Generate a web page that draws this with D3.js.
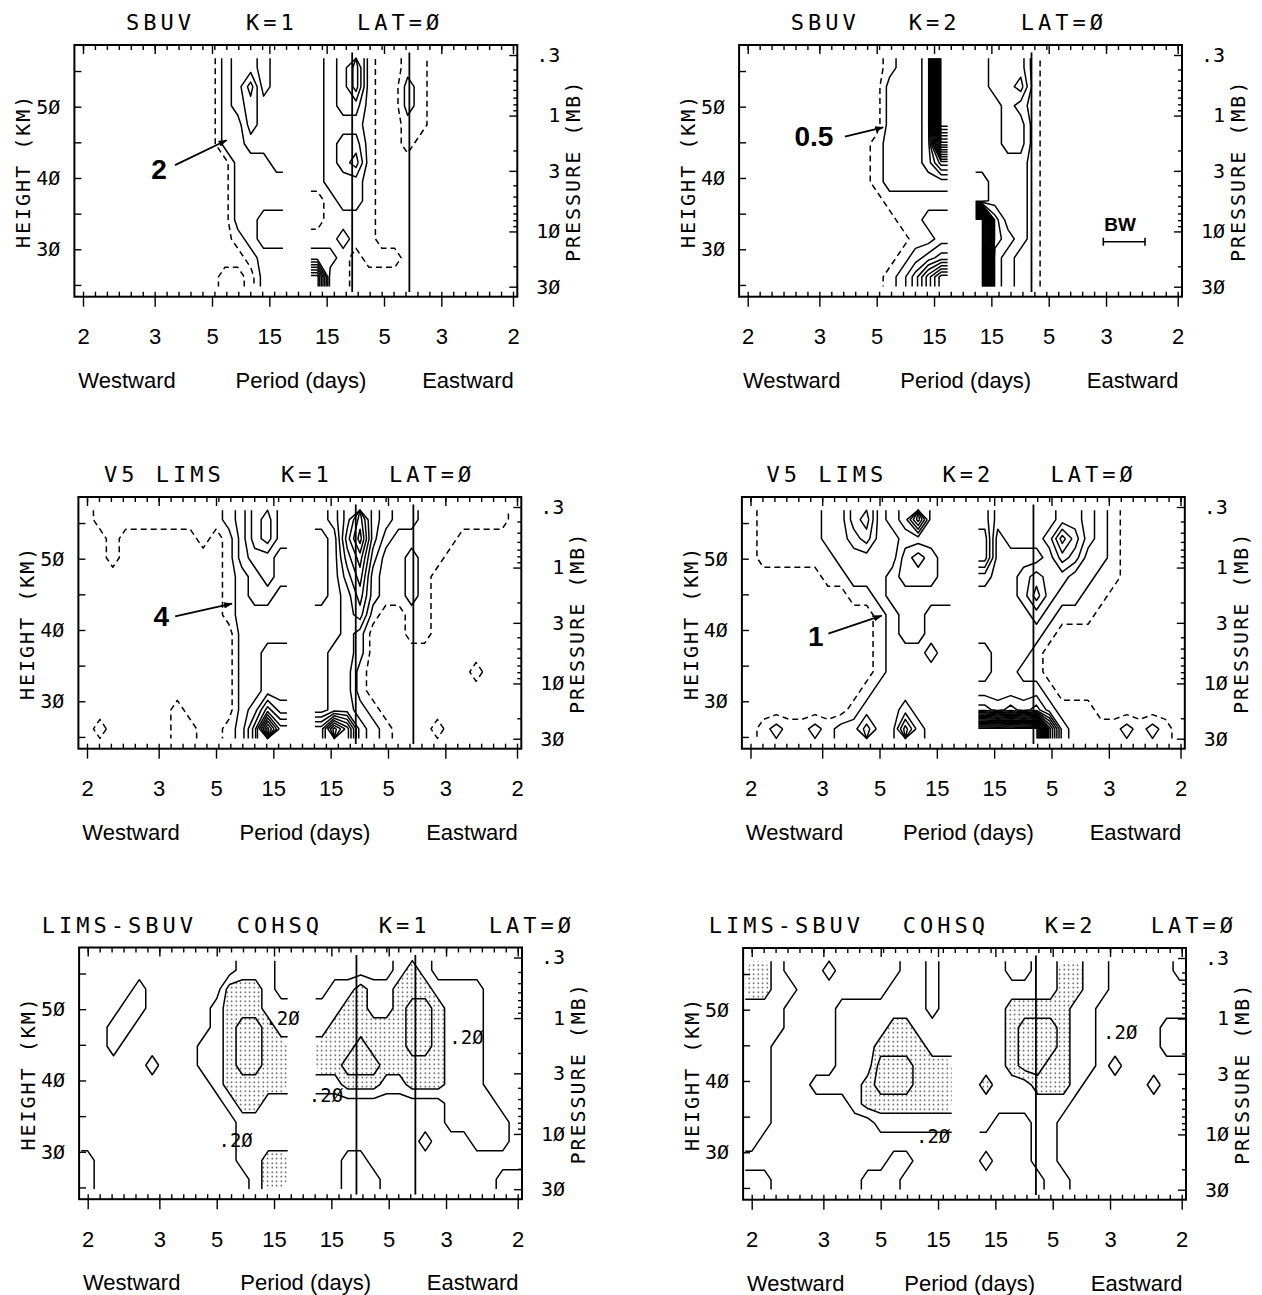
<!DOCTYPE html>
<html>
<head>
<meta charset="utf-8">
<script src="https://cdn.jsdelivr.net/npm/d3@7"></script>
<style>
  body { margin: 0; background: #fff; }
</style>
</head>
<body>
<script>
// ---- grid geometry (spectral bins and height levels) ----
const westFreq = [-0.50, -0.47, -0.44, -0.41, -0.38, -0.35, -0.32, -0.29, -0.26, -0.23, -0.20, -0.17, -0.14, -0.11, -0.08, -0.05];
const eastFreq = [0.045, 0.075, 0.105, 0.135, 0.165, 0.195, 0.225, 0.255, 0.285, 0.315, 0.345, 0.375, 0.405, 0.435, 0.465, 0.495];
const rowKm = [55.47, 52.8, 50.13, 47.47, 44.8, 42.13, 39.47, 36.8, 34.13, 31.47, 28.8, 26.13];

// ---- contour level index per grid node, top row first, "west east" (base 36 digits) ----
const sbuvK1 = [
  "0000000000023323 1235100110000000",
  "0000000000023523 1235100210000000",
  "0000000000023433 1233100210000000",
  "0000000000022433 1222100110000000",
  "0000000000022333 1233100100000000",
  "0000000000002223 1234100000000000",
  "0000000000002222 1222100000000000",
  "0000000000002222 0122100000000000",
  "0000000000002233 0111100000000000",
  "0000000000001233 1121100000000000",
  "0000000000000122 2210111000000000",
  "0000000000011022 9110000000000000"
];
const sbuvK2 = [
  "000000000001223k 2333100000000000",
  "000000000002223k 2334100000000000",
  "000000000002223k 2232100000000000",
  "000000000002223k 2233100000000000",
  "000000000012223e 2233100000000000",
  "0000000000122236 2222100000000000",
  "0000000000122222 1222100000000000",
  "0000000000011111 1222100000000000",
  "0000000000001122 k422100000000000",
  "0000000000000112 k432100000000000",
  "0000000000001234 k321100000000000",
  "000000000001247a k321100000000000"
];
const limsK1 = [
  "0111111111123564 2358432211111110",
  "0010000001013564 1269421111100000",
  "0010000000013443 1257311211000000",
  "0000000000012343 1246211210000000",
  "0000000000012332 1235211210000000",
  "0000000000012222 2234100110000000",
  "0000000000002222 2232000110000000",
  "0000000000002233 2332000000000000",
  "0000000000002233 2331000000001000",
  "0000000000002233 2331000000000000",
  "0000000100002364 2332100000000000",
  "01000001100125c7 6b83210001000000"
];
const limsK2 = [
  "0111112245234833 5333334432100000",
  "0111112234223333 6233347532100000",
  "0111111222224543 6222235422100000",
  "0000001122234443 3223433221100000",
  "0000000011233333 2223532211000000",
  "0000000000123322 2222321110000000",
  "0000000000123322 2222210000000000",
  "0000000000122232 1222100000000000",
  "0000000000122222 1221100000000000",
  "0000000001222222 2222210000000000",
  "0000000012223222 4343421110000000",
  "0121121224226322 kkkkk82111121210"
];
const cohK1 = [
  "0000000000001110 0000001210000000",
  "0000100000022210 0112112221111000",
  "0001100000122211 1122112332111000",
  "0011000000123321 1222222332111000",
  "0010000001123322 2223222332111000",
  "0000010001123322 2233322222111000",
  "0000000000122222 1122211222111000",
  "0000000000012211 0000000000111100",
  "0000000000001111 0000000000111110",
  "0000000000001111 0000000010001110",
  "1000000000001122 0011000000000000",
  "1000000000000122 0011100000000011"
];
const cohK2 = [
  "2210001000001101 1100112211000001",
  "2211000000011101 1111112211000000",
  "1110000111111101 1122222110000000",
  "1110000111122111 1123332110000011",
  "1100000111222211 1123332110000011",
  "1100000111333222 1123322110100000",
  "1100011112333222 2111222100000100",
  "1100000012222222 1111111000000000",
  "1100000000111111 1000110000000000",
  "1000000000000000 0000110000000000",
  "0000000000011000 1000110000000000",
  "1100000001110000 0000011000000000"
];

// ---- axes ----
const periods = [2, 3, 5, 15];
const tickFreq = [...periods.map(p => -1 / p), ...periods.slice().reverse().map(p => 1 / p)];
const tickLabels = [...periods, ...periods.slice().reverse()];
const minorFreq = d3.range(-18, 19).map(k => k / 36);
const kmTicks = [25, 30, 35, 40, 45, 50, 55];
const kmLabels = [30, 40, 50];
const pMajor = [0.3, 1, 3, 10, 30];
const pLabels = [".3", "1", "3", "1Ø", "3Ø"];
const pMinor = [0.4, 0.5, 0.6, 0.7, 0.8, 0.9, 2, 4, 5, 6, 7, 8, 9, 20];

// ---- Kelvin reference lines (cycles/day) ----
const sbuvK1Refs = [0.126, 0.259];
const sbuvK2Refs = [0.16];
const limsK1Refs = [0.125, 0.259];
const limsK2Refs = [0.158];
const cohK1Refs = [0.125, 0.262];
const cohK2Refs = [0.161];

// ---- text labels ----
const cohK1Labels = [[-0.047, 48.8], [0.381, 46.1], [0.054, 37.9], [-0.156, 31.65]];
const cohK2Labels = [[0.357, 46.9], [-0.078, 32.2]];

const panels = [
  { cx: 298,   top: 45,    rows: sbuvK1, refs: sbuvK1Refs, dashed: true,
    title: [["SBUV", -172], ["K=1", -52], ["LAT=Ø", 59]],
    note: { text: "2", at: [-0.323, 41.3], from: [-0.286, 41.8], to: [-0.166, 45.3] } },
  { cx: 962.7, top: 45,    rows: sbuvK2, refs: sbuvK2Refs, dashed: true,
    title: [["SBUV", -172], ["K=2", -54], ["LAT=Ø", 58]],
    note: { text: "0.5", at: [-0.346, 45.9], from: [-0.274, 45.8], to: [-0.185, 47.1] },
    bw: { band: [0.327, 0.424], km: 31.06, labelAt: [0.366, 33.5] } },
  { cx: 302,   top: 497,   rows: limsK1, refs: limsK1Refs, dashed: true,
    title: [["V5 LIMS", -198], ["K=1", -21], ["LAT=Ø", 87]],
    note: { text: "4", at: [-0.327, 42.0], from: [-0.295, 41.9], to: [-0.163, 43.7] } },
  { cx: 965.5, top: 497,   rows: limsK2, refs: limsK2Refs, dashed: true,
    title: [["V5 LIMS", -199], ["K=2", -23], ["LAT=Ø", 85]],
    note: { text: "1", at: [-0.348, 39.2], from: [-0.319, 39.5], to: [-0.195, 42.0] } },
  { cx: 302.7, top: 947.5, rows: cohK1, refs: cohK1Refs, stipple: true, labels: cohK1Labels,
    title: [["LIMS-SBUV", -261], ["COHSQ", -66], ["K=1", 76], ["LAT=Ø", 186]] },
  { cx: 966.7, top: 948,   rows: cohK2, refs: cohK2Refs, stipple: true, labels: cohK2Labels,
    title: [["LIMS-SBUV", -258], ["COHSQ", -64], ["K=2", 78], ["LAT=Ø", 184]] }
];

const PX_PER_FREQ = 430, BOX_H = 251.7;
const FREQ_DOMAIN = [-0.52, 0.51], KM_DOMAIN = [23.35, 58.65];
const MONO = "'DejaVu Sans Mono', monospace";
const SANS = "'Liberation Sans', Arial, Helvetica, sans-serif";

const svg = d3.select("body").append("svg")
  .attr("width", 1262).attr("height", 1295)
  .style("background", "#fff");

const defs = svg.append("defs");
const pat = defs.append("pattern").attr("id", "stip")
  .attr("width", 4.5).attr("height", 4.5).attr("patternUnits", "userSpaceOnUse");
pat.append("circle").attr("cx", 2.2).attr("cy", 2.2).attr("r", 0.75).attr("fill", "#222");
defs.append("marker").attr("id", "arrow").attr("viewBox", "0 0 10 10")
  .attr("refX", 9).attr("refY", 5).attr("markerWidth", 9).attr("markerHeight", 9)
  .attr("markerUnits", "userSpaceOnUse").attr("orient", "auto")
  .append("path").attr("d", "M0,1.5 L10,5 L0,8.5 Z").attr("fill", "#000");

function parseGrid(rows) {
  const west = [], east = [];
  rows.forEach(r => {
    const [w, e] = r.split(" ");
    for (const ch of w) west.push(parseInt(ch, 36));
    for (const ch of e) east.push(parseInt(ch, 36));
  });
  return { west, east };
}

// split a closed contour ring into open lines, dropping the grid-edge closure
function openPaths(ring, nx, ny) {
  const pts = ring.slice();
  const f = pts[0], l = pts[pts.length - 1];
  if (f[0] === l[0] && f[1] === l[1]) pts.pop();
  const n = pts.length;
  const onB = q => q[0] === 0 || q[0] === nx || q[1] === 0 || q[1] === ny;
  const cut = i => onB(pts[i]) && onB(pts[(i + 1) % n]);
  let start = -1;
  for (let i = 0; i < n; i++) if (cut(i)) { start = i; break; }
  if (start < 0) return [pts.concat([pts[0]])];
  const out = [];
  let cur = null;
  for (let k = 1; k <= n; k++) {
    const i = (start + k) % n;
    if (cut(i)) { if (cur) out.push(cur); cur = null; }
    else { if (!cur) cur = [pts[i]]; cur.push(pts[(i + 1) % n]); }
  }
  if (cur) out.push(cur);
  return out.map(path => {
    const q = path.map(d => d.slice());
    const fix = (a, b) => {
      if (a[1] === 0 || a[1] === ny) a[0] = b[0];
      else if (a[0] === 0 || a[0] === nx) a[1] = b[1];
    };
    if (q.length > 1) { fix(q[0], q[1]); fix(q[q.length - 1], q[q.length - 2]); }
    return q;
  });
}

function drawPanel(p) {
  const x = d3.scaleLinear().domain(FREQ_DOMAIN)
    .range([p.cx + FREQ_DOMAIN[0] * PX_PER_FREQ, p.cx + FREQ_DOMAIN[1] * PX_PER_FREQ]);
  const y = d3.scaleLinear().domain(KM_DOMAIN).range([p.top + BOX_H, p.top]);
  const yp = d3.scaleLog().domain([0.3, 30]).range([p.top + 10, p.top + 241.7]);
  const [x0, x1] = x.range();
  const y0 = p.top, y1 = p.top + BOX_H;
  const g = svg.append("g");

  const grid = parseGrid(p.rows);
  [[grid.west, westFreq], [grid.east, eastFreq]].forEach(([vals, freqs]) => {
    const nx = freqs.length, ny = rowKm.length;
    const fx = d3.scaleLinear().domain([0.5, nx - 0.5]).range([freqs[0], freqs[nx - 1]]);
    const ky = d3.scaleLinear().domain([0.5, ny - 0.5]).range([rowKm[0], rowKm[ny - 1]]);
    const levels = d3.range(0.5, d3.max(vals), 1);
    const cs = d3.contours().size([nx, ny]).thresholds(levels)(vals);
    const px = pt => [x(fx(pt[0])), y(ky(pt[1]))];

    if (p.stipple) {
      const geo = d3.geoPath(d3.geoTransform({
        point(a, b) { const q = px([a, b]); this.stream.point(q[0], q[1]); }
      }));
      cs.filter(c => c.value === 1.5).forEach(c =>
        g.append("path").attr("d", geo(c)).attr("fill", "url(#stip)").attr("stroke", "none"));
    }

    const line = d3.line().x(d => px(d)[0]).y(d => px(d)[1]);
    cs.forEach(c => {
      c.coordinates.forEach(poly => poly.forEach(ring => {
        openPaths(ring, nx, ny).forEach(path => {
          g.append("path").attr("d", line(path))
            .attr("fill", "none").attr("stroke", "#000")
            .attr("stroke-width", 1.5).attr("stroke-linejoin", "round")
            .attr("stroke-dasharray", p.dashed && c.value === 0.5 ? "6,4" : null);
        });
      }));
    });
  });

  // reference lines
  p.refs.forEach(f => {
    g.append("line").attr("x1", x(f)).attr("x2", x(f))
      .attr("y1", y(24)).attr("y2", y(57.6))
      .attr("stroke", "#000").attr("stroke-width", 1.8);
  });

  // frame
  g.append("rect").attr("x", x0).attr("y", y0).attr("width", x1 - x0).attr("height", y1 - y0)
    .attr("fill", "none").attr("stroke", "#000").attr("stroke-width", 2);

  const tickStyle = sel => {
    sel.select(".domain").remove();
    sel.selectAll("line").attr("stroke", "#000").attr("stroke-width", 1.4);
  };

  // bottom axis: period labels
  g.append("g").attr("transform", `translate(0,${y1})`)
    .call(d3.axisBottom(x).tickValues(tickFreq).tickFormat((d, i) => tickLabels[i])
      .tickSize(10).tickPadding(22))
    .call(tickStyle)
    .attr("font-family", SANS).attr("font-size", 22)
    .selectAll("text").attr("fill", "#000");
  g.append("g").attr("transform", `translate(0,${y1})`)
    .call(d3.axisBottom(x).tickValues(minorFreq).tickFormat("").tickSize(-5)).call(tickStyle);
  g.append("g").attr("transform", `translate(0,${y0})`)
    .call(d3.axisTop(x).tickValues(minorFreq).tickFormat("").tickSize(-5)).call(tickStyle);
  g.append("g").attr("transform", `translate(0,${y0})`)
    .call(d3.axisTop(x).tickValues(tickFreq).tickFormat("").tickSize(-9)).call(tickStyle);

  // left height axis
  g.append("g").attr("transform", `translate(${x0},0)`)
    .call(d3.axisRight(y).tickValues(kmTicks).tickFormat("").tickSize(7)).call(tickStyle);
  g.append("g").attr("transform", `translate(${x0},0)`)
    .call(d3.axisLeft(y).tickValues(kmLabels).tickSize(0).tickPadding(14)
      .tickFormat(d => String(d).replace(/0/g, "Ø")))
    .call(tickStyle)
    .attr("font-family", MONO).attr("font-size", 20)
    .selectAll("text").attr("fill", "#000");

  // right pressure axis
  g.append("g").attr("transform", `translate(${x1},0)`)
    .call(d3.axisLeft(yp).tickValues(pMajor).tickFormat("").tickSize(8)).call(tickStyle);
  g.append("g").attr("transform", `translate(${x1},0)`)
    .call(d3.axisLeft(yp).tickValues(pMinor).tickFormat("").tickSize(4)).call(tickStyle);
  g.append("g").attr("transform", `translate(${x1},0)`)
    .call(d3.axisRight(yp).tickValues(pMajor).tickSize(0).tickFormat((d, i) => pLabels[i]))
    .call(tickStyle)
    .attr("font-family", MONO).attr("font-size", 20)
    .selectAll("text").attr("fill", "#000").attr("x", 43).attr("text-anchor", "end");

  // axis titles
  g.append("text").attr("transform", `translate(${x0 - 51},${(y0 + y1) / 2}) rotate(-90)`)
    .attr("text-anchor", "middle").attr("dy", "0.35em")
    .attr("font-family", MONO).attr("font-size", 20).style("letter-spacing", "2px")
    .text("HEIGHT (KM)");
  g.append("text").attr("transform", `translate(${x1 + 56},${(y0 + y1) / 2}) rotate(-90)`)
    .attr("text-anchor", "middle").attr("dy", "0.35em")
    .attr("font-family", MONO).attr("font-size", 20).style("letter-spacing", "2px")
    .text("PRESSURE (MB)");

  [["Westward", -171], ["Period (days)", 3], ["Eastward", 170]].forEach(([t, dx]) => {
    g.append("text").attr("x", p.cx + dx).attr("y", y1 + 91)
      .attr("text-anchor", "middle").attr("font-family", SANS).attr("font-size", 22)
      .text(t);
  });

  // panel title
  p.title.forEach(([t, dx]) => {
    g.append("text").attr("x", p.cx + dx).attr("y", y0 - 15)
      .attr("font-family", MONO).attr("font-size", 22).style("letter-spacing", "4px")
      .text(t);
  });

  // contour value annotation with arrow
  if (p.note) {
    const n = p.note;
    g.append("line")
      .attr("x1", x(n.from[0])).attr("y1", y(n.from[1]))
      .attr("x2", x(n.to[0])).attr("y2", y(n.to[1]))
      .attr("stroke", "#000").attr("stroke-width", 1.8).attr("marker-end", "url(#arrow)");
    g.append("text").attr("x", x(n.at[0])).attr("y", y(n.at[1])).attr("dy", "0.36em")
      .attr("text-anchor", "middle").attr("font-family", SANS).attr("font-weight", "bold")
      .attr("font-size", 28).text(n.text);
  }

  // bandwidth bar
  if (p.bw) {
    const b = p.bw, yy = y(b.km);
    g.append("line").attr("x1", x(b.band[0])).attr("x2", x(b.band[1]))
      .attr("y1", yy).attr("y2", yy).attr("stroke", "#000").attr("stroke-width", 1.6);
    b.band.forEach(f => g.append("line").attr("x1", x(f)).attr("x2", x(f))
      .attr("y1", yy - 4).attr("y2", yy + 4).attr("stroke", "#000").attr("stroke-width", 1.6));
    g.append("text").attr("x", x(b.labelAt[0])).attr("y", y(b.labelAt[1])).attr("dy", "0.36em")
      .attr("text-anchor", "middle").attr("font-family", SANS).attr("font-weight", "bold")
      .attr("font-size", 19).text("BW");
  }

  // coherence contour labels
  (p.labels || []).forEach(([f, km]) => {
    g.append("text").attr("x", x(f)).attr("y", y(km)).attr("dy", "0.36em")
      .attr("text-anchor", "middle").attr("font-family", MONO).attr("font-size", 19)
      .text(".2Ø");
  });
}

panels.forEach(drawPanel);
</script>
</body>
</html>
